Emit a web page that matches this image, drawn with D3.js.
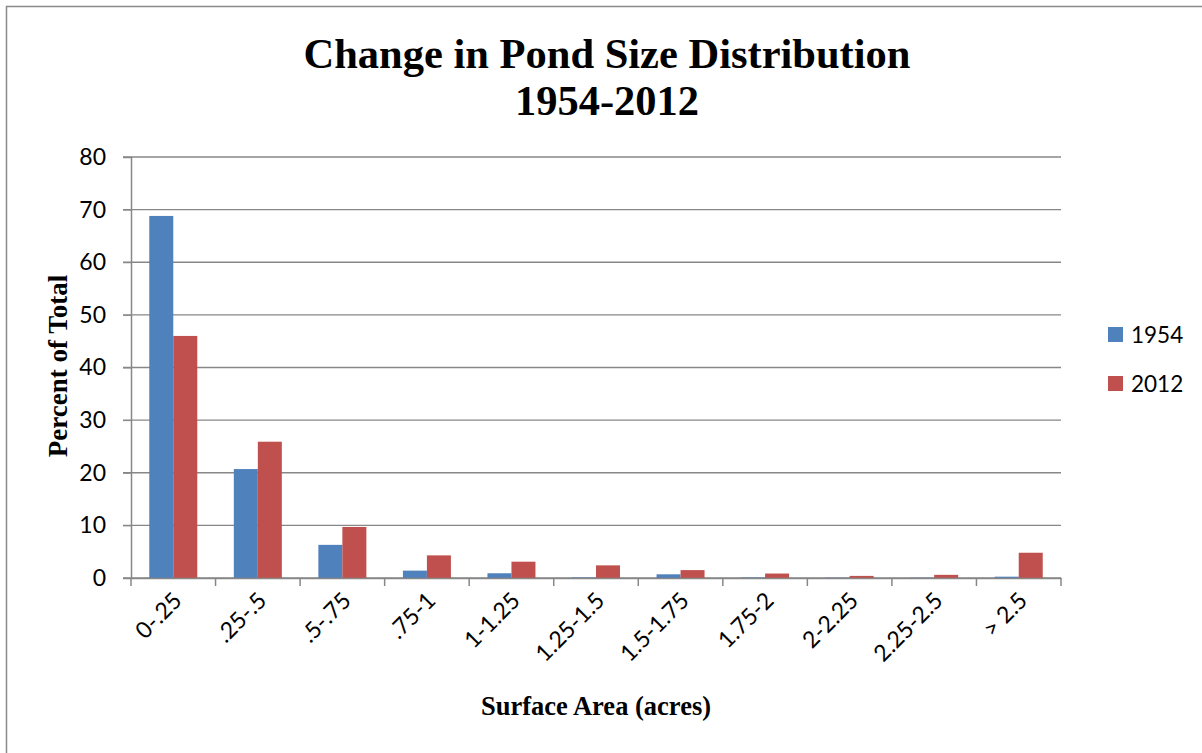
<!DOCTYPE html>
<html><head><meta charset="utf-8">
<script src="https://cdn.jsdelivr.net/npm/d3@7"></script>
<style>body{margin:0;background:#fff}svg{display:block}</style>
</head><body>
<script>
const categories = ["0-.25", ".25-.5", ".5-.75", ".75-1", "1-1.25", "1.25-1.5", "1.5-1.75", "1.75-2", "2-2.25", "2.25-2.5", "> 2.5"];
const series = ["1954", "2012"];
const values1954 = [68.8, 20.7, 6.3, 1.4, 0.9, 0.1, 0.7, 0.1, 0.05, 0.05, 0.25];
const values2012 = [46.0, 25.9, 9.7, 4.3, 3.1, 2.4, 1.5, 0.85, 0.4, 0.6, 4.8];
const yTicks = [0, 10, 20, 30, 40, 50, 60, 70, 80];
const colors = ["#4F81BD", "#C0504D"];

(function () {
const W = 1202, H = 753;
const sans = "Lato, 'Open Sans', sans-serif";
const serif = "'Liberation Serif', 'Times New Roman', serif";
const svg = d3.select("body").append("svg").attr("width", W).attr("height", H);
svg.append("rect").attr("x", 6.5).attr("y", 6.5).attr("width", W + 10).attr("height", H + 10)
  .attr("fill", "none").attr("stroke", "#8a8a8a").attr("stroke-width", 1.5);

const pL = 131, pR = 1061, pT = 157, pB = 578;
const x = d3.scaleBand().domain(categories).range([pL, pR]).padding(0);
const xs = d3.scaleBand().domain(series).range([0, 48]);
const y = d3.scaleLinear().domain([0, 80]).range([pB, pT]);

svg.append("g").selectAll("line").data(yTicks).join("line")
  .attr("x1", pL - 8).attr("x2", pR).attr("y1", d => y(d)).attr("y2", d => y(d))
  .attr("stroke", "#878787").attr("stroke-width", 1.3);

const yAxis = svg.append("g").attr("transform", `translate(${pL},0)`)
  .call(d3.axisLeft(y).tickValues(yTicks).tickSize(8).tickPadding(17));
yAxis.select(".domain").attr("stroke", "#878787").attr("stroke-width", 1.5);
yAxis.selectAll(".tick line").attr("stroke", "#878787");
yAxis.selectAll("text").attr("font-family", sans).attr("font-size", 23).attr("fill", "#000");

const data = categories.map((c, i) => ({c, v: [values1954[i], values2012[i]]}));
const groups = svg.append("g").selectAll("g").data(data).join("g")
  .attr("transform", d => `translate(${x(d.c) + (x.bandwidth() - 48) / 2},0)`);
groups.selectAll("rect").data(d => d.v.map((v, j) => ({s: series[j], v, j}))).join("rect")
  .attr("x", d => xs(d.s)).attr("width", xs.bandwidth())
  .attr("y", d => y(d.v)).attr("height", d => pB - y(d.v))
  .attr("fill", d => colors[d.j]);

const xAxis = svg.append("g").attr("transform", `translate(0,${pB})`)
  .call(d3.axisBottom(x).tickSize(0).tickFormat(""));
xAxis.select(".domain").attr("stroke", "#878787").attr("stroke-width", 1.5);
svg.append("g").selectAll("line").data(d3.range(categories.length + 1)).join("line")
  .attr("x1", i => pL + i * x.step()).attr("x2", i => pL + i * x.step())
  .attr("y1", pB).attr("y2", pB + 8).attr("stroke", "#878787").attr("stroke-width", 1.5);
svg.append("g").selectAll("text").data(categories).join("text")
  .attr("transform", d => `translate(${x(d) + x.bandwidth() / 2 + 10},${pB + 24}) rotate(-45)`)
  .attr("text-anchor", "end").attr("font-family", sans).attr("font-size", 23)
  .text(d => d);

svg.append("text").attr("x", 607).attr("y", 68).attr("text-anchor", "middle")
  .attr("font-family", serif).attr("font-weight", "bold").attr("font-size", 42.5).text("Change in Pond Size Distribution");
svg.append("text").attr("x", 607).attr("y", 115).attr("text-anchor", "middle")
  .attr("font-family", serif).attr("font-weight", "bold").attr("font-size", 42.5).text("1954-2012");
svg.append("text").attr("transform", `translate(67,366) rotate(-90)`).attr("text-anchor", "middle")
  .attr("font-family", serif).attr("font-weight", "bold").attr("font-size", 27).text("Percent of Total");
svg.append("text").attr("x", 596).attr("y", 715).attr("text-anchor", "middle")
  .attr("font-family", serif).attr("font-weight", "bold").attr("font-size", 26.5).text("Surface Area (acres)");

const lg = svg.append("g").selectAll("g").data(series).join("g")
  .attr("transform", (d, i) => `translate(1108,${327 + i * 49})`);
lg.append("rect").attr("width", 15).attr("height", 15).attr("fill", (d, i) => colors[i]);
lg.append("text").attr("x", 23).attr("y", 16).attr("font-family", sans)
  .attr("font-size", 22.5).text(d => d);
})();
</script>
</body></html>
